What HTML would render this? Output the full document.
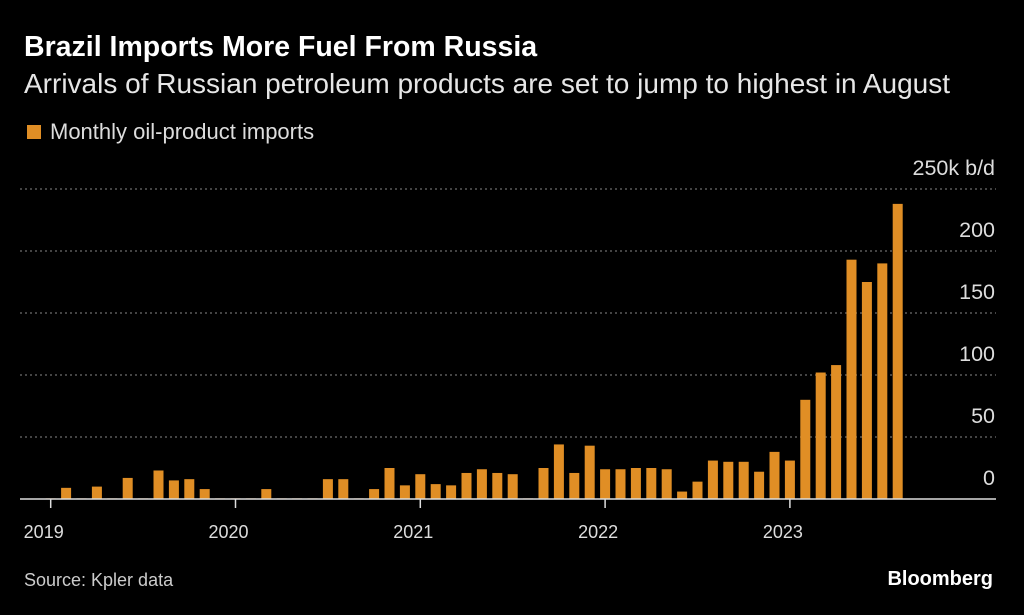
<!DOCTYPE html>
<html><head><meta charset="utf-8"><style>
body{margin:0;background:#000;width:1024px;height:615px;overflow:hidden;font-family:"Liberation Sans",sans-serif;color:#fff}
.t{position:absolute;white-space:nowrap}
</style></head><body>
<div class="t" style="left:24px;top:31px;font-size:28.5px;font-weight:bold">Brazil Imports More Fuel From Russia</div>
<div class="t" style="left:24px;top:68px;font-size:28px;color:#e6e6e6">Arrivals of Russian petroleum products are set to jump to highest in August</div>
<div class="t" style="left:27px;top:119px;font-size:22px;color:#ddd"><span style="display:inline-block;width:14px;height:14px;background:#e08e25;margin-right:9px;vertical-align:0px"></span>Monthly oil-product imports</div>
<div class="t" style="left:24px;top:570px;font-size:18px;color:#ccc">Source: Kpler data</div>
<div class="t" style="right:31px;top:568px;font-size:20px;font-weight:bold">Bloomberg</div>
<svg id="c" width="1024" height="615" style="position:absolute;left:0;top:0"></svg>
<script>
const values=[0.5,9,0.5,10,0.5,17,0.5,23,15,16,8,0.5,0.5,0.5,8,0.5,0.5,0.5,16,16,0.5,8,25,11,20,12,11,21,24,21,20,0.5,25,44,21,43,24,24,25,25,24,6,14,31,30,30,22,38,31,80,102,108,193,175,190,238];
const yTicks=[0,50,100,150,200,250];
const yTickLabels=["0","50","100","150","200","250k b/d"];
const years=["2019","2020","2021","2022","2023"];
const NS="http://www.w3.org/2000/svg",svg=document.getElementById('c');
const y0=499,pxU=1.24,x0=50.7,step=15.4,bw=10;
const y=v=>y0-v*pxU, x=i=>x0+i*step;
function mk(t,a){const e=document.createElementNS(NS,t);for(const k in a)e.setAttribute(k,a[k]);svg.appendChild(e);return e;}
yTicks.forEach((v,i)=>{
 if(v>0){const g=mk('line',{x1:20,x2:996,y1:y(v),y2:y(v),stroke:'#888','stroke-dasharray':'2,3','stroke-width':1});
 
 }
 const t=mk('text',{x:995,y:y(v)-14,'text-anchor':'end','font-size':21.5,fill:'#ddd','font-family':'Liberation Sans'});
 t.textContent=yTickLabels[i];
 
 
});
values.forEach((v,i)=>{
 const r=mk('rect',{x:x(i)-bw/2,y:y(v),width:bw,height:v*pxU,fill:'#e08e25'});
 
 
});
const b=mk('line',{x1:20,x2:996,y1:y0,y2:y0,stroke:'#ddd','stroke-width':1.5});


years.forEach((s,i)=>{
 const xx=x(i*12);
 const tk=mk('line',{x1:xx,x2:xx,y1:y0,y2:y0+9,stroke:'#ddd','stroke-width':1.5});
 
 
 const t=mk('text',{x:xx-7,y:538,'text-anchor':'middle','font-size':18,fill:'#ddd','font-family':'Liberation Sans'});
 t.textContent=s;
 
 
});
</script>
</body></html>
